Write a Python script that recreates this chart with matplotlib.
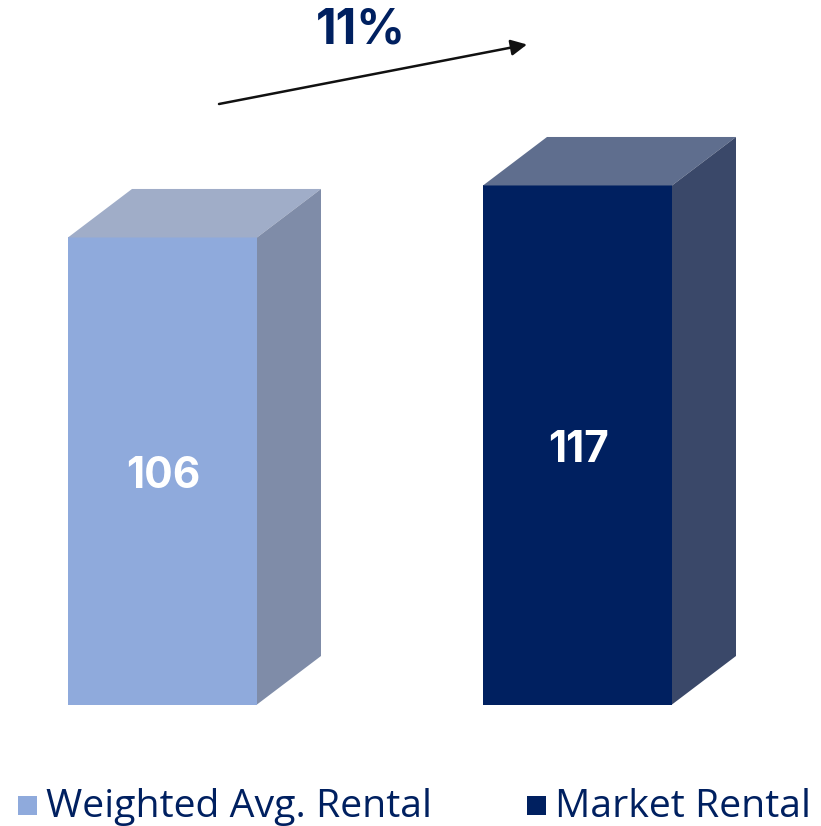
import matplotlib
matplotlib.use("Agg")
import matplotlib.pyplot as plt
from matplotlib.patches import Polygon, Rectangle

categories = ["Weighted Avg. Rental", "Market Rental"]
values = [106, 117]
change_label = "11%"

W, H = 821, 826
BASE = 704.5
SCALE = 4.727
FLOOR = 7.2
fronts = ["#8FAADC", "#002060"]
tops = ["#A0ADC8", "#5F6E8E"]
sides = ["#7F8CA8", "#3A4869"]
lefts = [68, 483]
width = 189
dx, dy = 64, 48.5


def py(p):
    """Pixel row from the top to the data scale."""
    return FLOOR + (BASE - p) / SCALE


fig = plt.figure(figsize=(W / 100, H / 100), dpi=100)
ax = fig.add_axes([0, 0, 1, 1])
ax.set_xlim(0, W)
ax.set_ylim(py(H), py(0))
ax.axis("off")
ydepth = dy / SCALE

for v, x, f, t, s in zip(values, lefts, fronts, tops, sides):
    ax.bar(x, v - FLOOR, width=width, bottom=FLOOR, align="edge", color=f, linewidth=0)
    ax.add_patch(Polygon([(x, v), (x + width, v), (x + width + dx, v + ydepth), (x + dx, v + ydepth)],
                         closed=True, facecolor=t, linewidth=0))
    ax.add_patch(Polygon([(x + width, FLOOR), (x + width + dx, FLOOR + ydepth),
                          (x + width + dx, v + ydepth), (x + width, v)],
                         closed=True, facecolor=s, linewidth=0))
    ax.text(x + width / 2 + 0.5, (v + FLOOR) / 2 - 6 / SCALE, str(v), ha="center", va="center", color="white",
            fontsize=30.5, fontweight="bold", family="Inter")

# growth arrow and label
ax.annotate("", xy=(527, py(44.5)), xytext=(219, py(104)),
            arrowprops=dict(arrowstyle="-|>", color="#111111", lw=1.8, mutation_scale=24,
                            shrinkA=0, shrinkB=0))
ax.text(361, py(30), change_label, ha="center", va="center", color="#002060",
        fontsize=34.5, fontweight="bold", family="Inter")

# legend
leg_y = py(807)
for name, c, bx, tx in zip(categories, fronts, [18, 527], [46, 555]):
    ax.add_patch(Rectangle((bx, py(815)), 19, 19 / SCALE, facecolor=c, linewidth=0))
    ax.text(tx, leg_y, name, ha="left", va="center", color="#002060", fontsize=28.3, family="Open Sans")

fig.savefig("out.png", dpi=100)
